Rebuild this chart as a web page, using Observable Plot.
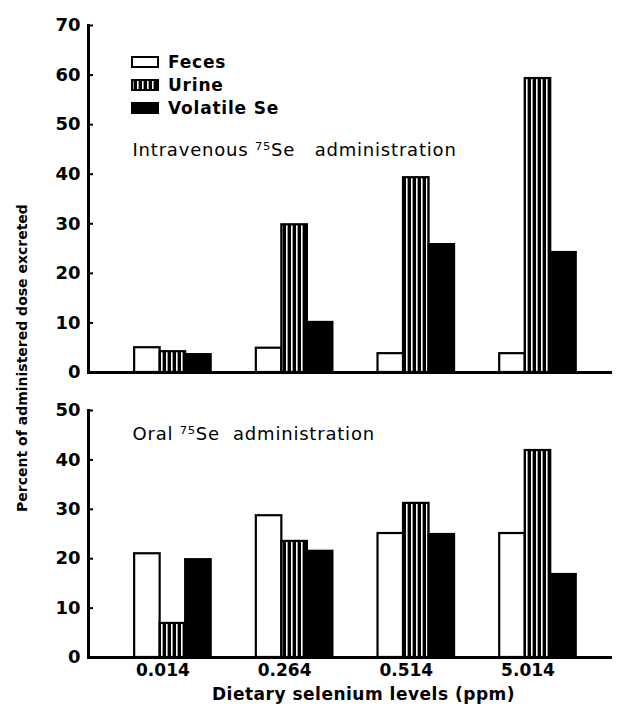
<!DOCTYPE html>
<html>
<head>
<meta charset="utf-8">
<script src="https://cdn.jsdelivr.net/npm/d3@7"></script>
<script src="https://cdn.jsdelivr.net/npm/@observablehq/plot@0.6"></script>
<style>
  body { margin: 0; background: #fff; }
  #chart { position: relative; width: 644px; height: 713px; background: #fff; color: #000; font-family: "DejaVu Sans", sans-serif; overflow: hidden; }
  #chart svg.panel { position: absolute; left: 0; overflow: visible; }
  .legend { position: absolute; left: 131px; top: 50px; font-weight: bold; font-size: 17px; letter-spacing: 0.8px; }
  .legend .row { display: flex; align-items: center; height: 23px; }
  .legend svg { margin-right: 9px; }
  .ytitle { position: absolute; left: 22px; top: 358px; transform: translate(-50%, -50%) rotate(-90deg); white-space: nowrap; font-weight: bold; font-size: 14px; }
</style>
</head>
<body>
<div id="chart"></div>
<script>
// ---- data ----
const levels = ["0.014", "0.264", "0.514", "5.014"];
const seriesNames = ["Feces", "Urine", "Volatile Se"];

// Intravenous 75Se administration (% of administered dose excreted)
const ivFeces    = [5.0, 4.9, 3.8, 3.8];
const ivUrine    = [4.2, 29.8, 39.3, 59.3];
const ivVolatile = [3.6, 10.1, 25.8, 24.2];

// Oral 75Se administration
const oralFeces    = [21.0, 28.7, 25.1, 25.1];
const oralUrine    = [6.9, 23.5, 31.2, 41.9];
const oralVolatile = [19.8, 21.5, 24.9, 16.8];

const ivTicks = [0, 10, 20, 30, 40, 50, 60, 70];
const oralTicks = [0, 10, 20, 30, 40, 50];

const ivTitle = "Intravenous \u2077\u2075Se\u00A0\u00A0\u00A0administration";
const oralTitle = "Oral \u2077\u2075Se\u00A0\u00A0administration";
const xTitle = "Dietary selenium levels (ppm)";
const yTitle = "Percent of administered dose excreted";

// ---- layout ----
const W = 644, mL = 88, mR = 32;
const padIn = 0.371, padOut = 0.3385, align = 0.56;
const plotW = W - mL - mR;
const step = plotW / (levels.length - padIn + 2 * padOut);
const bw = step * (1 - padIn);
const third = bw / 3;

const chart = document.getElementById("chart");

function table(f, u, v) {
  return levels.map((lvl, i) => ({level: lvl, feces: f[i], urine: u[i], volatile: v[i]}));
}

function addPattern(svg, id) {
  d3.select(svg).insert("defs", ":first-child").html(
    `<pattern id="${id}" patternUnits="userSpaceOnUse" width="5" height="5">
       <rect width="5" height="5" fill="#000"></rect>
       <rect x="1" width="1.6" height="5" fill="#fff"></rect>
     </pattern>`);
}

function spaceText(svg, content, ls) {
  d3.select(svg).selectAll("text")
    .filter(function() { return this.textContent === content; })
    .style("letter-spacing", ls);
}

function panel({data, ticks, ymax, height, mTop, mBottom, title, titleDy, titleLs, pid, bottom}) {
  const marks = [
    Plot.barY(data, {x: "level", y: "feces", fill: "white", stroke: "black", strokeWidth: 2.2, insetLeft: 0, insetRight: 2 * third}),
    Plot.barY(data, {x: "level", y: "urine", fill: `url(#${pid})`, stroke: "black", strokeWidth: 2.2, insetLeft: third, insetRight: third}),
    Plot.barY(data, {x: "level", y: "volatile", fill: "black", stroke: "black", strokeWidth: 2.2, insetLeft: 2 * third, insetRight: 0}),
    Plot.ruleY([0], {stroke: "black", strokeWidth: 3}),
    Plot.frame({anchor: "left", stroke: "black", strokeWidth: 3}),
    Plot.axisY({ticks, tickSize: -5, tickPadding: 13, fontSize: 18, fontWeight: "bold", label: null, strokeWidth: 2}),
    Plot.text([title], {frameAnchor: "top-left", dx: 44, dy: titleDy, textAnchor: "start", fontSize: 18})
  ];
  if (bottom) {
    marks.push(Plot.axisX({tickSize: 0, tickPadding: 6, fontSize: 17, fontWeight: "bold", dx: -10, label: null}));
    marks.push(Plot.text([xTitle], {frameAnchor: "bottom", dx: 13, dy: 42, fontSize: 17, fontWeight: "bold"}));
  } else {
    marks.push(Plot.axisX({ticks: [], label: null}));
  }
  const svg = Plot.plot({
    width: W, height,
    marginLeft: mL, marginRight: mR, marginTop: mTop, marginBottom: mBottom,
    style: {fontFamily: "DejaVu Sans, sans-serif", background: "white", color: "black", overflow: "visible"},
    x: {domain: levels, paddingInner: padIn, paddingOuter: padOut, align, round: false, label: null},
    y: {domain: [0, ymax], label: null},
    marks
  });
  addPattern(svg, pid);
  spaceText(svg, title, titleLs);
  spaceText(svg, xTitle, "0.5px");
  svg.classList.add("panel");
  return svg;
}

const topPanel = panel({data: table(ivFeces, ivUrine, ivVolatile), ticks: ivTicks, ymax: 70,
  height: 385, mTop: 25, mBottom: 13, title: ivTitle, titleDy: 118, titleLs: "0.8px", pid: "stripesIV", bottom: false});
topPanel.style.top = "0px";
chart.appendChild(topPanel);

const botPanel = panel({data: table(oralFeces, oralUrine, oralVolatile), ticks: oralTicks, ymax: 50,
  height: 328, mTop: 25, mBottom: 56, title: oralTitle, titleDy: 17, titleLs: "0.8px", pid: "stripesOral", bottom: true});
botPanel.style.top = "385px";
chart.appendChild(botPanel);

// legend
const legend = document.createElement("div");
legend.className = "legend";
const swatchFill = {"Feces": "white", "Urine": "url(#stripesIV)", "Volatile Se": "black"};
seriesNames.forEach(name => {
  const row = document.createElement("div");
  row.className = "row";
  row.innerHTML = `<svg width="28" height="12"><rect x="1" y="1" width="26" height="10" fill="${swatchFill[name]}" stroke="black" stroke-width="2"></rect></svg><span>${name}</span>`;
  legend.appendChild(row);
});
chart.appendChild(legend);

const yt = document.createElement("div");
yt.className = "ytitle";
yt.textContent = yTitle;
chart.appendChild(yt);
</script>
</body>
</html>
